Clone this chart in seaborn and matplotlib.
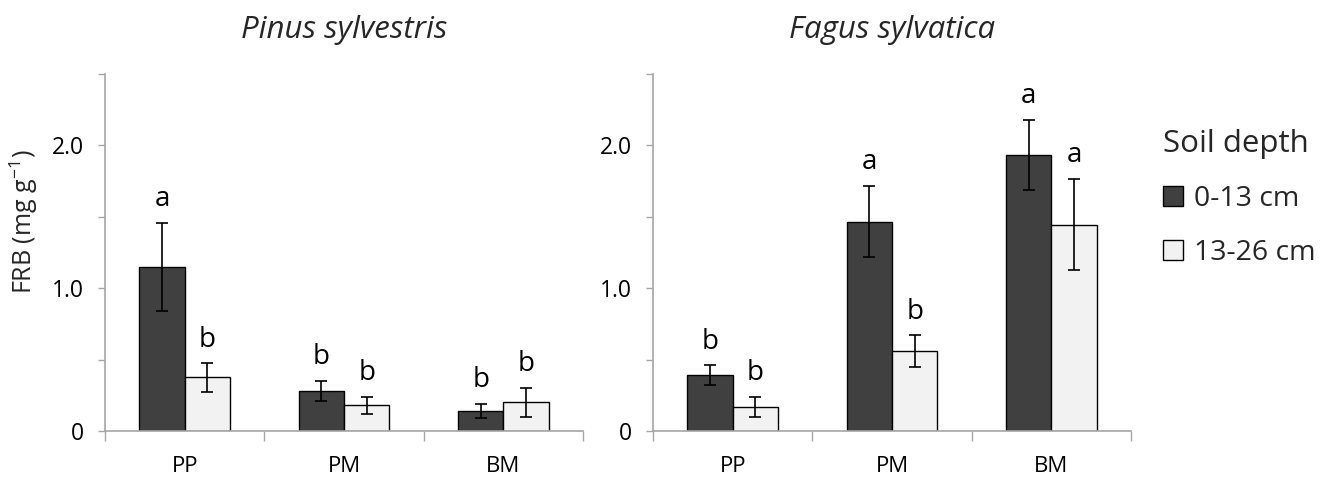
import matplotlib
matplotlib.use("Agg")
import matplotlib.pyplot as plt
import seaborn as sns
import pandas as pd
from matplotlib.ticker import FixedLocator, FixedFormatter

# ---- data ----
sites = ["PP", "PM", "BM"]
depths = ["0-13 cm", "13-26 cm"]

pinus_shallow = [1.15, 0.28, 0.14]
pinus_shallow_err = [0.31, 0.07, 0.05]
pinus_deep = [0.375, 0.18, 0.20]
pinus_deep_err = [0.10, 0.06, 0.10]

fagus_shallow = [0.39, 1.465, 1.935]
fagus_shallow_err = [0.07, 0.25, 0.245]
fagus_deep = [0.17, 0.56, 1.445]
fagus_deep_err = [0.07, 0.11, 0.32]

pinus_shallow_letters = ["a", "b", "b"]
pinus_deep_letters = ["b", "b", "b"]
fagus_shallow_letters = ["b", "a", "a"]
fagus_deep_letters = ["b", "b", "a"]

y_ticks = [0, 0.5, 1.0, 1.5, 2.0, 2.5]
y_tick_labels = ["0", "", "1.0", "", "2.0", ""]

sns.set_theme(style="white")
plt.rcParams["font.family"] = ["Open Sans", "DejaVu Sans"]
plt.rcParams["mathtext.default"] = "regular"

palette = {"0-13 cm": "#404040", "13-26 cm": "#f2f2f2"}
spine_col = "#a6a6a6"

fig = plt.figure(figsize=(13.44, 4.8), dpi=100)
ax1 = fig.add_axes([105 / 1344, 1 - 431 / 480, 478 / 1344, 357 / 480])
ax2 = fig.add_axes([653 / 1344, 1 - 431 / 480, 478 / 1344, 357 / 480])

panels = [
    (ax1, "Pinus sylvestris", pinus_shallow, pinus_shallow_err, pinus_deep, pinus_deep_err,
     pinus_shallow_letters, pinus_deep_letters),
    (ax2, "Fagus sylvatica", fagus_shallow, fagus_shallow_err, fagus_deep, fagus_deep_err,
     fagus_shallow_letters, fagus_deep_letters),
]

for ax, title, sh, sh_e, dp, dp_e, sh_l, dp_l in panels:
    df = pd.DataFrame({
        "site": sites * 2,
        "depth": [depths[0]] * 3 + [depths[1]] * 3,
        "value": sh + dp,
    })
    sns.barplot(data=df, x="site", y="value", hue="depth", order=sites, hue_order=depths,
                palette=palette, width=0.57, errorbar=None, edgecolor="black",
                linewidth=1.0, ax=ax, legend=(ax is ax1), gap=0)
    for cont, vals, errs, lets in zip(ax.containers, [sh, dp], [sh_e, dp_e], [sh_l, dp_l]):
        xs = [b.get_x() + b.get_width() / 2 for b in cont]
        ax.errorbar(xs, vals, yerr=errs, fmt="none", ecolor="black", elinewidth=1.2,
                    capsize=4, capthick=1.2, zorder=5)
        for x, v, e, l in zip(xs, vals, errs, lets):
            ax.annotate(l, (x, v + e), xytext=(0, 12), textcoords="offset points",
                        ha="center", va="baseline", fontsize=20, color="black")
    ax.set_xlim(-0.5, 2.5)
    ax.set_ylim(0, 2.5)
    ax.set_title(title, fontsize=22.5, style="italic", pad=26)
    ax.set_xlabel("")
    ax.set_ylabel("")
    ax.yaxis.set_major_locator(FixedLocator(y_ticks))
    ax.yaxis.set_major_formatter(FixedFormatter(y_tick_labels))
    ax.xaxis.set_minor_locator(FixedLocator([-0.5, 0.5, 1.5, 2.5]))
    ax.tick_params(axis="x", which="major", length=0, pad=18, labelsize=16, colors="black")
    ax.tick_params(axis="x", which="minor", length=7, width=1, color=spine_col, direction="out",
                   bottom=True)
    ax.tick_params(axis="y", which="major", length=5, width=1, color=spine_col, direction="out",
                   pad=10, labelsize=16.5, labelcolor="black", left=True)
    for s in ["top", "right"]:
        ax.spines[s].set_visible(False)
    for s in ["left", "bottom"]:
        ax.spines[s].set_color(spine_col)
        ax.spines[s].set_linewidth(1.2)

ax1.set_ylabel("FRB (mg g$^{-1}$)", fontsize=18)
ax1.yaxis.set_label_coords(-0.135, 0.585)

handles, labels = ax1.get_legend_handles_labels()
ax1.get_legend().remove()
fig.legend(handles, labels, title="Soil depth", loc="upper left",
           bbox_to_anchor=(1163 / 1344, 1 - 129 / 480), frameon=False,
           fontsize=20.5, title_fontsize=22.5, alignment="left", borderpad=0,
           handlelength=0.7, handleheight=0.7, handletextpad=0.4, labelspacing=0.92,
           borderaxespad=0)

fig.savefig("out.png", dpi=100)
